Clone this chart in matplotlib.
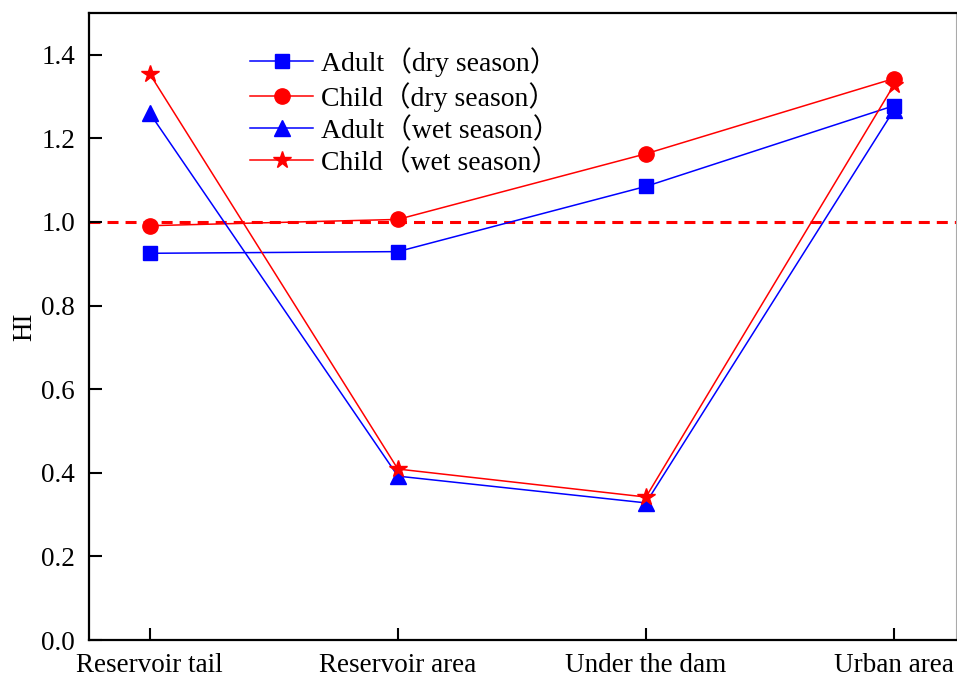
import matplotlib
matplotlib.use("Agg")
import matplotlib.pyplot as plt

plt.rcParams['font.family'] = ['Liberation Serif', 'Noto Sans CJK SC']

sites = ['Reservoir tail', 'Reservoir area', 'Under the dam', 'Urban area']
adult_dry = [0.925, 0.929, 1.085, 1.278]
child_dry = [0.991, 1.006, 1.163, 1.343]
adult_wet = [1.260, 0.392, 0.328, 1.268]
child_wet = [1.354, 0.409, 0.342, 1.328]
threshold = 1.0

fig = plt.figure(figsize=(9.57, 6.78), dpi=100)
ax = fig.add_axes([0.093, 0.056, 0.906, 0.925])

x = range(len(sites))
# HI = 1 reference line
ax.axhline(threshold, color='red', ls=(0, (3.6, 2.3)), lw=2.2, zorder=1)
ax.plot(x, adult_dry, color='blue', lw=1.1, marker='s', ms=10,
        label='Adult（dry season）')
ax.plot(x, child_dry, color='red', lw=1.1, marker='o', ms=11,
        label='Child（dry season）')
ax.plot(x, adult_wet, color='blue', lw=1.1, marker='^', ms=11,
        label='Adult（wet season）')
ax.plot(x, child_wet, color='red', lw=1.1, marker='*', ms=13,
        label='Child（wet season）')

ax.set_xlim(-0.245, 3.25)
ax.set_ylim(0, 1.5)
ax.set_xticks(list(x))
ax.set_xticklabels(sites)
ax.set_yticks([0.0, 0.2, 0.4, 0.6, 0.8, 1.0, 1.2, 1.4])
ax.set_yticklabels([f'{v:.1f}' for v in ax.get_yticks()])
ax.tick_params(direction='in', length=9, width=1.5, labelsize=19.5)
ax.tick_params(axis='x', pad=9)
ax.tick_params(axis='y', pad=10)
ax.set_ylabel('HI', fontsize=19.5, labelpad=3)

for side in ['left', 'bottom', 'top']:
    ax.spines[side].set_linewidth(1.6)
ax.spines['right'].set_color('#aaaaaa')
ax.spines['right'].set_linewidth(0.8)

ax.legend(loc='upper left', bbox_to_anchor=(0.186, 0.946), frameon=False,
          fontsize=20, handlelength=2.25, handletextpad=0.3, labelspacing=0.2,
          borderaxespad=0, borderpad=0)

fig.savefig('out.png', dpi=100)
